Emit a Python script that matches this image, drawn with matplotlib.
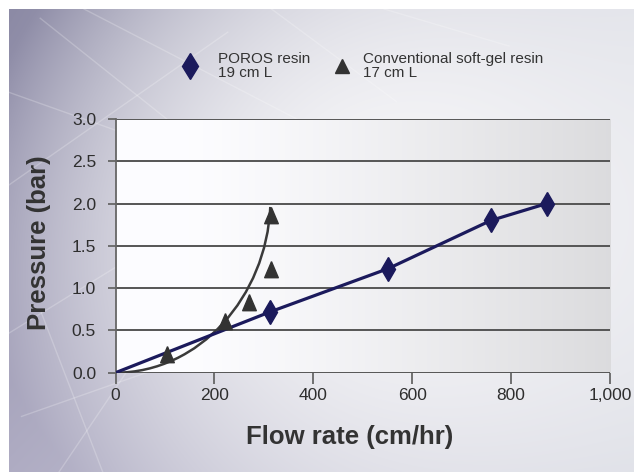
import numpy as np
import matplotlib
matplotlib.use("Agg")
import matplotlib.pyplot as plt
from matplotlib.path import Path
from matplotlib.patches import PathPatch
from matplotlib.lines import Line2D

# ---- data ----
poros_flow = [0, 313, 551, 759, 872]
poros_pressure = [0.0, 0.72, 1.23, 1.80, 2.00]

softgel_flow = [105, 222, 269, 314, 314]
softgel_pressure = [0.21, 0.60, 0.83, 1.22, 1.85]

# control points of the soft-gel trend curve (cubic Bezier)
softgel_trend_flow = [0, 170, 305, 313]
softgel_trend_pressure = [0.0, 0.0, 0.90, 1.96]

x_ticks = [0, 200, 400, 600, 800, 1000]
x_tick_labels = ["0", "200", "400", "600", "800", "1,000"]
y_ticks = [0.0, 0.5, 1.0, 1.5, 2.0, 2.5, 3.0]
y_tick_labels = ["0.0", "0.5", "1.0", "1.5", "2.0", "2.5", "3.0"]

legend_labels = ["POROS resin\n19 cm L", "Conventional soft-gel resin\n17 cm L"]
x_label = "Flow rate (cm/hr)"
y_label = "Pressure (bar)"

plt.rcParams["font.family"] = ["Liberation Sans", "DejaVu Sans"]

W, H = 634, 472
fig = plt.figure(figsize=(W / 100, H / 100), dpi=100)
fig.patch.set_facecolor("white")

# slightly tall triangle marker
tall_triangle = [(0, 1.1), (-0.85, -0.9), (0.85, -0.9), (0, 1.1)]

# ---- backdrop ----
bg = fig.add_axes([9 / W, 0, 1 - 9 / W, 1 - 9 / H], zorder=-10)
bg.set_axis_off()
ny, nx = 240, 320
u = np.linspace(0, 1, nx)[None, :]
v = np.linspace(0, 1, ny)[:, None]
d = np.sqrt(((u - 0.62) / 0.68) ** 2 + ((v - 0.45) / 0.85) ** 2)
t = np.clip(d, 0, 1) ** 1.8
top_left = np.array([140, 138, 165]) / 255
bottom_left = np.array([175, 172, 195]) / 255
right_edge = np.array([218, 220, 228]) / 255
left_edge = top_left[None, None, :] * (1 - v[..., None]) + bottom_left[None, None, :] * v[..., None]
edge = left_edge * (1 - u[..., None]) + right_edge[None, None, :] * u[..., None]
centre = np.array([246, 246, 248]) / 255
img = centre[None, None, :] * (1 - t[..., None]) + edge * t[..., None]
bg.imshow(img, extent=[0, 1, 0, 1], aspect="auto", interpolation="bicubic")
streaks = [
    ((0.05, 0.98), (0.45, 0.55)), ((0.12, 1.0), (0.55, 0.70)),
    ((0.0, 0.62), (0.35, 0.95)), ((0.0, 0.30), (0.30, 0.55)),
    ((0.02, 0.12), (0.40, 0.30)), ((0.08, 0.0), (0.28, 0.40)),
    ((0.42, 1.0), (0.62, 0.80)), ((0.0, 0.82), (0.25, 0.70)),
    ((0.60, 1.0), (0.80, 0.92)), ((0.15, 0.0), (0.05, 0.35)),
]
for (x0, y0), (x1, y1) in streaks:
    bg.plot([x0, x1], [y0, y1], color="white", lw=1.0, alpha=0.22,
            transform=bg.transAxes)
bg.set_xlim(0, 1)
bg.set_ylim(0, 1)

# ---- main axes ----
ax_left, ax_right = 115.5 / W, 610 / W
ax_bottom, ax_top = 1 - 372.7 / H, 1 - 119 / H
ax = fig.add_axes([ax_left, ax_bottom, ax_right - ax_left, ax_top - ax_bottom])
ax.set_facecolor("none")

grad = np.linspace(0, 1, 256)[None, :]
shade = 1 - 0.13 * np.clip((grad - 0.15) / 0.85, 0, 1) ** 1.2
panel = np.dstack([shade * 0.99, shade * 0.99, shade * 1.0])
ax.imshow(panel, extent=[0, 1, 0, 1], transform=ax.transAxes, aspect="auto",
          zorder=0, interpolation="bicubic")

ax.set_xlim(0, 1000)
ax.set_ylim(0, 3.0)

grid_color = "#555555"
for yv in y_ticks:
    ax.axhline(yv, color=grid_color, lw=1.4, zorder=1)

for s in ["top", "right", "bottom"]:
    ax.spines[s].set_visible(False)
ax.spines["left"].set_color("#666666")
ax.spines["left"].set_linewidth(1.3)

ax.set_xticks(x_ticks)
ax.set_xticklabels(x_tick_labels)
ax.set_yticks(y_ticks)
ax.set_yticklabels(y_tick_labels)
ax.tick_params(axis="y", length=6, width=1.3, color="#666666", pad=8,
               labelsize=12.5, labelcolor="#2e2e2e")
ax.tick_params(axis="x", length=8, width=1.3, color="#666666", pad=3,
               labelsize=12.5, labelcolor="#2e2e2e")

# soft-gel trend curve
verts = list(zip(softgel_trend_flow, softgel_trend_pressure))
codes = [Path.MOVETO, Path.CURVE4, Path.CURVE4, Path.CURVE4]
ax.add_patch(PathPatch(Path(verts, codes), facecolor="none",
                       edgecolor="#3a3a3a", lw=1.8, zorder=3))

# POROS line and markers
navy = "#1b1a5c"
ax.plot(poros_flow, poros_pressure, color=navy, lw=2.3, zorder=4)
ax.plot(poros_flow[1:], poros_pressure[1:], linestyle="none", marker="d",
        markersize=12, color=navy, zorder=5)

# soft-gel markers
ax.plot(softgel_flow, softgel_pressure, linestyle="none", marker=tall_triangle,
        markersize=12.7, color="#333333", zorder=5)

# ---- legend ----
key_y = 1 - 66 / H
fig.add_artist(Line2D([190 / W], [key_y], linestyle="none", marker="d",
                      markersize=13, color=navy, transform=fig.transFigure))
fig.add_artist(Line2D([342 / W], [key_y], linestyle="none", marker="^",
                      markersize=10, color="#333333", transform=fig.transFigure))
for xpos, lab in zip([218 / W, 363 / W], legend_labels):
    fig.text(xpos, key_y, lab, ha="left", va="center", fontsize=11,
             color="#333333", linespacing=0.95)

# ---- axis titles ----
fig.text(350 / W, 1 - 437 / H, x_label, ha="center", va="center",
         fontsize=18.5, fontweight="bold", color="#333333")
fig.text(39 / W, 1 - 243 / H, y_label, ha="center", va="center",
         rotation=90, fontsize=18.5, fontweight="bold", color="#333333")

fig.savefig("out.png", dpi=100)
